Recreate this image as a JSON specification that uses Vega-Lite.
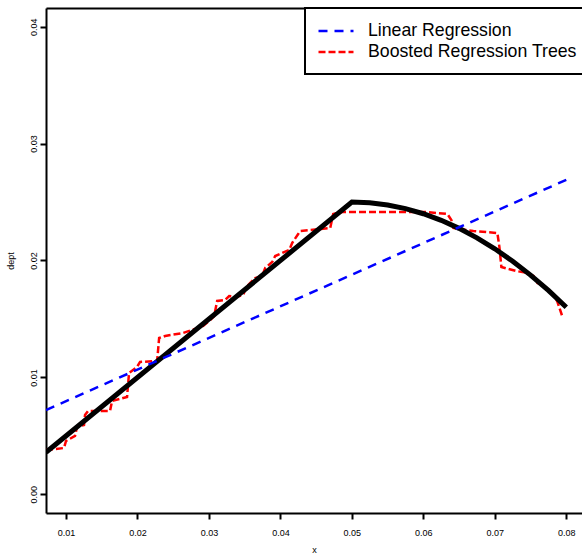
{
  "$schema": "https://vega.github.io/schema/vega-lite/v6.json",
  "width": 536,
  "height": 505,
  "autosize": "none",
  "padding": {"left": 46, "top": 8, "right": 0, "bottom": 43},
  "background": "white",
  "config": {
    "view": {"stroke": null},
    "font": "Liberation Sans",
    "axis": {
      "grid": false,
      "domainColor": "black",
      "domainWidth": 2,
      "tickColor": "black",
      "tickWidth": 2,
      "tickSize": 6,
      "labelFont": "Liberation Sans",
      "labelFontSize": 9,
      "labelColor": "black",
      "titleFont": "Liberation Sans",
      "titleFontSize": 9,
      "titleFontWeight": "normal",
      "titleColor": "black"
    },
    "legend": {
      "orient": "none", "legendX": 259, "legendY": 0, "title": null,
      "symbolType": "M-2,0H2", "symbolSize": 306, "symbolStrokeWidth": 2.5, "symbolOffset": 8,
      "labelFontSize": 17.7, "labelFont": "Liberation Sans", "labelColor": "black", "labelLimit": 0,
      "padding": 13, "rowPadding": 2, "labelOffset": 22,
      "fillColor": "white", "strokeColor": "black"
    }
  },
  "data": {
    "values": [
      {"s": "truth", "x": 0.0072, "y": 0.0036},
      {"s": "truth", "x": 0.05, "y": 0.025},
      {"s": "truth", "x": 0.0525, "y": 0.02494},
      {"s": "truth", "x": 0.055, "y": 0.02475},
      {"s": "truth", "x": 0.0575, "y": 0.02444},
      {"s": "truth", "x": 0.06, "y": 0.024},
      {"s": "truth", "x": 0.0625, "y": 0.02344},
      {"s": "truth", "x": 0.065, "y": 0.02275},
      {"s": "truth", "x": 0.0675, "y": 0.02194},
      {"s": "truth", "x": 0.07, "y": 0.021},
      {"s": "truth", "x": 0.0725, "y": 0.01994},
      {"s": "truth", "x": 0.075, "y": 0.01875},
      {"s": "truth", "x": 0.0775, "y": 0.01744},
      {"s": "truth", "x": 0.08, "y": 0.016},
      {"s": "Linear Regression", "x": 0.0072, "y": 0.00721},
      {"s": "Linear Regression", "x": 0.08, "y": 0.0269},
      {"s": "Boosted Regression Trees", "x": 0.0072, "y": 0.00379},
      {"s": "Boosted Regression Trees", "x": 0.00972, "y": 0.00396},
      {"s": "Boosted Regression Trees", "x": 0.0100, "y": 0.00456},
      {"s": "Boosted Regression Trees", "x": 0.01126, "y": 0.00499},
      {"s": "Boosted Regression Trees", "x": 0.01154, "y": 0.00576},
      {"s": "Boosted Regression Trees", "x": 0.01252, "y": 0.00593},
      {"s": "Boosted Regression Trees", "x": 0.01266, "y": 0.00678},
      {"s": "Boosted Regression Trees", "x": 0.01308, "y": 0.00713},
      {"s": "Boosted Regression Trees", "x": 0.01616, "y": 0.00713},
      {"s": "Boosted Regression Trees", "x": 0.01644, "y": 0.00798},
      {"s": "Boosted Regression Trees", "x": 0.01854, "y": 0.00832},
      {"s": "Boosted Regression Trees", "x": 0.01882, "y": 0.01038},
      {"s": "Boosted Regression Trees", "x": 0.01994, "y": 0.01089},
      {"s": "Boosted Regression Trees", "x": 0.02036, "y": 0.01132},
      {"s": "Boosted Regression Trees", "x": 0.02275, "y": 0.0114},
      {"s": "Boosted Regression Trees", "x": 0.02303, "y": 0.01337},
      {"s": "Boosted Regression Trees", "x": 0.02387, "y": 0.01354},
      {"s": "Boosted Regression Trees", "x": 0.02639, "y": 0.0138},
      {"s": "Boosted Regression Trees", "x": 0.02849, "y": 0.01423},
      {"s": "Boosted Regression Trees", "x": 0.02919, "y": 0.0144},
      {"s": "Boosted Regression Trees", "x": 0.03017, "y": 0.01491},
      {"s": "Boosted Regression Trees", "x": 0.03073, "y": 0.01525},
      {"s": "Boosted Regression Trees", "x": 0.03115, "y": 0.01654},
      {"s": "Boosted Regression Trees", "x": 0.03227, "y": 0.01662},
      {"s": "Boosted Regression Trees", "x": 0.03283, "y": 0.01696},
      {"s": "Boosted Regression Trees", "x": 0.03381, "y": 0.01688},
      {"s": "Boosted Regression Trees", "x": 0.03479, "y": 0.01705},
      {"s": "Boosted Regression Trees", "x": 0.03521, "y": 0.01773},
      {"s": "Boosted Regression Trees", "x": 0.03647, "y": 0.0185},
      {"s": "Boosted Regression Trees", "x": 0.03745, "y": 0.01867},
      {"s": "Boosted Regression Trees", "x": 0.03787, "y": 0.01936},
      {"s": "Boosted Regression Trees", "x": 0.03885, "y": 0.01987},
      {"s": "Boosted Regression Trees", "x": 0.03927, "y": 0.02038},
      {"s": "Boosted Regression Trees", "x": 0.04123, "y": 0.0209},
      {"s": "Boosted Regression Trees", "x": 0.04165, "y": 0.0215},
      {"s": "Boosted Regression Trees", "x": 0.04249, "y": 0.02227},
      {"s": "Boosted Regression Trees", "x": 0.04277, "y": 0.02252},
      {"s": "Boosted Regression Trees", "x": 0.04697, "y": 0.02278},
      {"s": "Boosted Regression Trees", "x": 0.04739, "y": 0.02398},
      {"s": "Boosted Regression Trees", "x": 0.04866, "y": 0.02415},
      {"s": "Boosted Regression Trees", "x": 0.06028, "y": 0.02415},
      {"s": "Boosted Regression Trees", "x": 0.06336, "y": 0.02398},
      {"s": "Boosted Regression Trees", "x": 0.06392, "y": 0.02346},
      {"s": "Boosted Regression Trees", "x": 0.0642, "y": 0.02278},
      {"s": "Boosted Regression Trees", "x": 0.067, "y": 0.02252},
      {"s": "Boosted Regression Trees", "x": 0.07036, "y": 0.02235},
      {"s": "Boosted Regression Trees", "x": 0.07064, "y": 0.02116},
      {"s": "Boosted Regression Trees", "x": 0.07092, "y": 0.01944},
      {"s": "Boosted Regression Trees", "x": 0.07303, "y": 0.0191},
      {"s": "Boosted Regression Trees", "x": 0.07457, "y": 0.01893},
      {"s": "Boosted Regression Trees", "x": 0.07569, "y": 0.01859},
      {"s": "Boosted Regression Trees", "x": 0.07597, "y": 0.01808},
      {"s": "Boosted Regression Trees", "x": 0.07681, "y": 0.0179},
      {"s": "Boosted Regression Trees", "x": 0.07737, "y": 0.01748},
      {"s": "Boosted Regression Trees", "x": 0.07849, "y": 0.01679},
      {"s": "Boosted Regression Trees", "x": 0.07877, "y": 0.01645},
      {"s": "Boosted Regression Trees", "x": 0.07947, "y": 0.01517}
    ]
  },
  "resolve": {"axis": {"x": "independent"}},
  "layer": [
    {
      "transform": [{"filter": "datum.s === 'Boosted Regression Trees'"}],
      "mark": {"type": "line", "strokeWidth": 2.5, "clip": true},
      "encoding": {
        "x": {"field": "x", "type": "quantitative", "scale": {"domain": [0.0072, 0.0822], "nice": false, "zero": false},
          "axis": {"values": [0.01, 0.02, 0.03, 0.04, 0.05, 0.06, 0.07, 0.08], "format": ".2f", "title": "x", "labelPadding": 9, "titlePadding": 8, "labelFlush": false}},
        "y": {"field": "y", "type": "quantitative", "scale": {"domain": [-0.0016, 0.0416], "nice": false, "zero": false},
          "axis": {"values": [0, 0.01, 0.02, 0.03, 0.04], "format": ".2f", "title": "dept", "labelAngle": 270, "labelAlign": "center", "labelBaseline": "bottom", "labelPadding": 2, "titlePadding": 14, "labelFlush": false}},
        "color": {"field": "s", "type": "nominal", "scale": {"domain": ["Linear Regression", "Boosted Regression Trees"], "range": ["#0000ff", "#ff0000"]},
          "legend": {"encode": {"legend": {"update": {"strokeWidth": {"value": 2}}}, "symbols": {"update": {"strokeDash": {"signal": "datum.value === 'Linear Regression' ? [12, 9] : [5, 7]"}}}}}},
        "strokeDash": {"field": "s", "type": "nominal", "scale": {"domain": ["Linear Regression", "Boosted Regression Trees"], "range": [[9, 7], [7, 3]]},
          "legend": {"encode": {"legend": {"update": {"strokeWidth": {"value": 2}}}, "symbols": {"update": {"strokeDash": {"signal": "datum.value === 'Linear Regression' ? [12, 9] : [5, 7]"}}}}}}
      }
    },
    {
      "transform": [{"filter": "datum.s === 'truth'"}],
      "mark": {"type": "line", "color": "black", "strokeWidth": 5, "clip": true},
      "encoding": {
        "x": {"field": "x", "type": "quantitative", "scale": {"domain": [0.0072, 0.0822], "nice": false, "zero": false}, "axis": null},
        "y": {"field": "y", "type": "quantitative"}
      }
    },
    {
      "transform": [{"filter": "datum.s === 'Linear Regression'"}],
      "mark": {"type": "line", "strokeWidth": 2.5, "clip": true},
      "encoding": {
        "x": {"field": "x", "type": "quantitative", "scale": {"domain": [0.0072, 0.0822], "nice": false, "zero": false},
          "axis": {"orient": "top", "labels": false, "ticks": false, "title": null, "domain": true}},
        "y": {"field": "y", "type": "quantitative"},
        "color": {"field": "s", "type": "nominal"},
        "strokeDash": {"field": "s", "type": "nominal"}
      }
    }
  ]
}
